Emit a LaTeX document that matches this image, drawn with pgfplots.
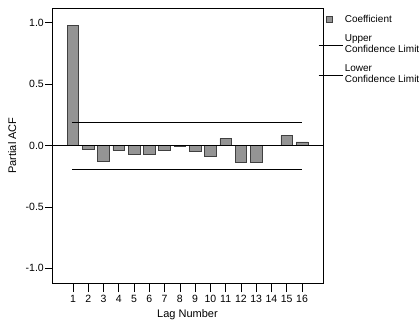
\documentclass[border=0pt]{standalone}
\usepackage{pgfplots}
\pgfplotsset{compat=1.18}
\usepackage{fontspec}
\setmainfont{Liberation Sans}
\usetikzlibrary{calc}
\begin{document}
\begin{tikzpicture}
\begin{axis}[name=ax, scale only axis, width=271bp, height=275bp,
  xmin=-0.375, xmax=17.375, ymin=-1.12, ymax=1.12,
  xtick={1,...,16}, ytick={-1,-0.5,0,0.5,1}, yticklabels={-1.0,-0.5,0.0,0.5,1.0},
  /pgf/number format/assume math mode=true,
  xtick pos=bottom, ytick pos=left, tick align=outside, major tick length=7bp,
  xtick style={/pgfplots/major tick length=9bp},
  tick style={black, line width=0.6pt},
  font=\fontsize{11bp}{13bp}\selectfont,
  ticklabel style={font=\fontsize{10.5bp}{12bp}\selectfont},
  yticklabel style={inner xsep=1bp},
  xticklabel style={yshift=-2bp},
  xlabel={Lag Number}, ylabel={Partial ACF},
  ylabel shift=5bp, xlabel shift=0bp,
  axis line style={line width=0.6pt},
  legend style={draw=none, fill=none, at={(1,1)}, anchor=north west, xshift=-5bp, yshift=-5bp,
    inner sep=0pt, column sep=0pt, row sep=7bp,
    cells={align=left, anchor=west, inner sep=0pt},
    font=\fontsize{10bp}{10.5bp}\selectfont},
]
\addplot[ybar, bar width=0.76, fill=black!42, draw=black!75, line width=0.6pt,
  legend image code/.code={\draw[fill=black!42, draw=black!75] (8bp,-3bp) rectangle (14bp,3bp);}]
  coordinates {(1,0.98) (2,-0.03) (3,-0.125) (4,-0.04) (5,-0.07) (6,-0.075) (7,-0.04) (8,-0.01)
  (9,-0.05) (10,-0.09) (11,0.057) (12,-0.135) (13,-0.135) (14,0) (15,0.08) (16,0.03)};
\addlegendentry{Coefficient}
\addplot[black, line width=0.6pt,
  legend image code/.code={\draw[black, line width=0.6pt] (0bp,-1bp) -- (24bp,-1bp);}]
  coordinates {(0.95,0.19) (16,0.19)};
\addlegendentry{Upper\\Confidence Limit}
\addplot[black, line width=0.6pt,
  legend image code/.code={\draw[black, line width=0.6pt] (0bp,-1bp) -- (24bp,-1bp);}]
  coordinates {(0.95,-0.195) (16,-0.195)};
\addlegendentry{Lower\\Confidence Limit}
\addplot[black, line width=0.6pt, forget plot] coordinates {(-1,0) (18,0)};
\end{axis}
\pgfresetboundingbox
\path ($(ax.south west)+(-52bp,-46bp)$) rectangle ($(ax.north east)+(97bp,8bp)$);
\end{tikzpicture}
\end{document}
